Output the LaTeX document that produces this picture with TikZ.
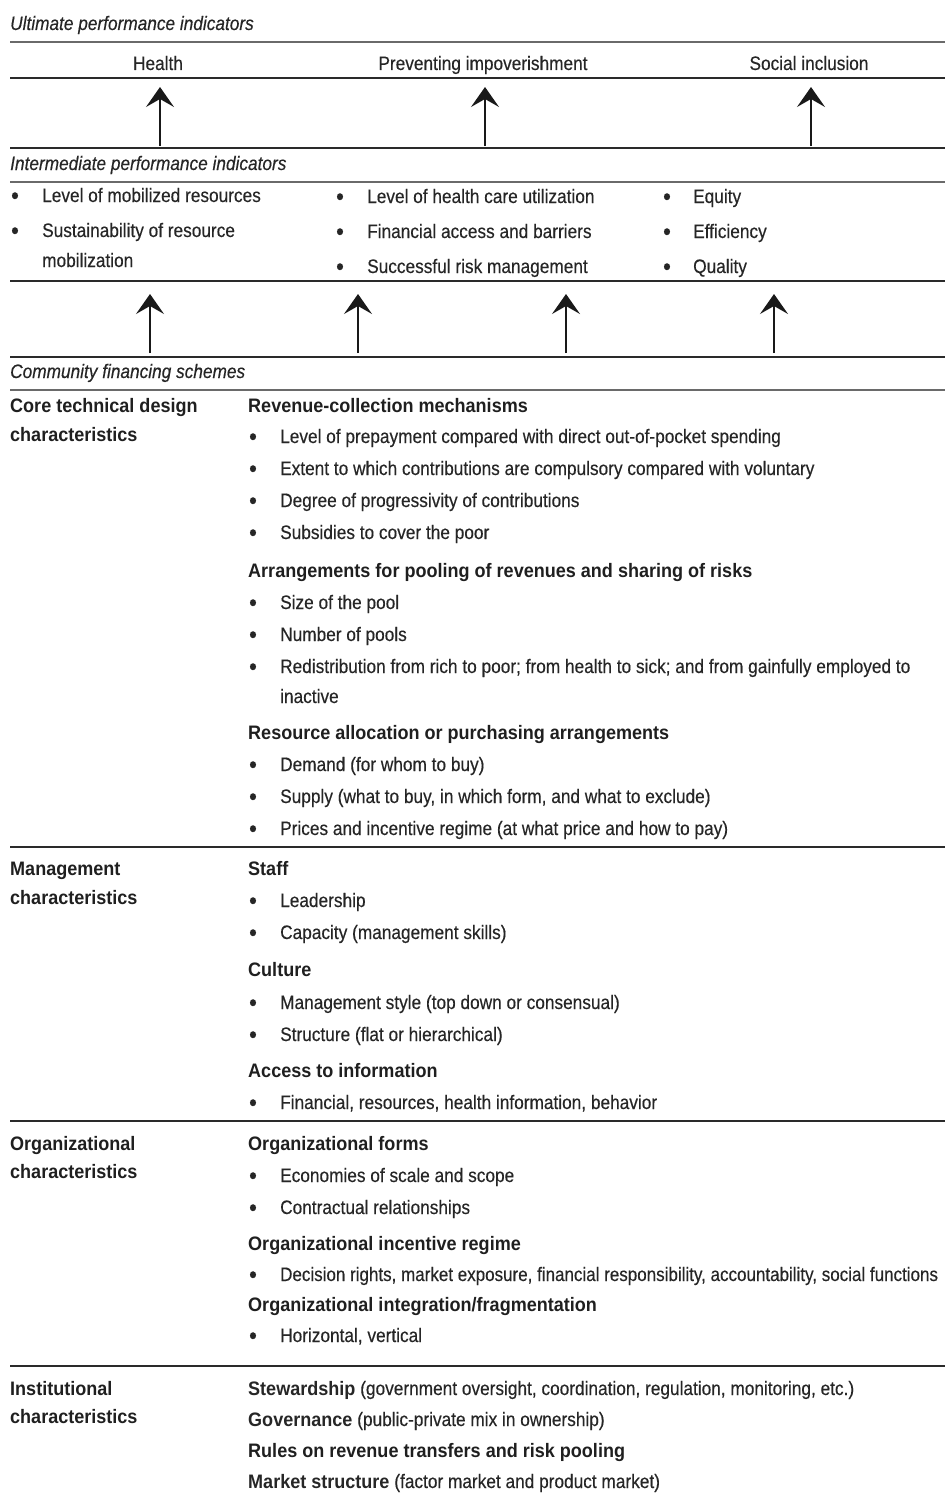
\documentclass[tikz,border=0pt]{standalone}
\usepackage{fontspec}
\usetikzlibrary{arrows.meta}
\newfontfamily\rmf{Liberation Sans}[FakeStretch=0.885, FakeBold=0.35]
\newfontfamily\bff{Liberation Sans}[FakeStretch=0.925]
\newcommand\bt[1]{{\bff\bfseries #1}}
\definecolor{ink}{HTML}{262626}
\definecolor{rulegrey}{HTML}{6A6A6A}
\definecolor{ruledark}{HTML}{2A2A2A}
\tikzset{
  txt/.style={anchor=base west, inner sep=0pt, text=ink, font=\rmf\fontsize{19.5}{30}\selectfont},
  ctr/.style={txt, anchor=base},
  ital/.style={txt, font=\rmf\itshape\fontsize{19.5}{30}\selectfont},
  hd/.style={txt, text=black!88, font=\bff\bfseries\fontsize{19.5}{30}\selectfont},
  bul/.style={anchor=base, inner sep=0pt, text=ink, font=\rmf\fontsize{25}{30}\selectfont},
  heavyrule/.style={draw=rulegrey, line width=2.2pt},
  lightrule/.style={draw=ruledark, line width=1.4pt},
  uparrow/.style={draw=black!90, line width=1.5pt,
    -{Stealth[length=20pt, width=28pt, inset=8pt]}},
}
% bullet item: name, x of bullet, x of text, baseline, text
\newcommand\litem[5]{%
  \node[bul] (#1b) at (#2,#4) {\raisebox{-2pt}{•}};
  \node[txt] (#1) at (#3,#4) {#5};}
\begin{document}
\begin{tikzpicture}[x=1pt, y=-1pt]
\useasboundingbox (0,0) rectangle (945,1512);

% ---------- ultimate performance indicators ----------
\node[ital] (ult) at (10,30) {Ultimate performance indicators};
\draw[heavyrule] (10,42) -- (945,42);
\node[ctr] (health) at (158,70) {Health};
\node[ctr] (prevent) at (483,70) {Preventing impoverishment};
\node[ctr] (social) at (809,70) {Social inclusion};
\draw[lightrule] (10,78) -- (945,78);

\coordinate (u1s) at (160,146); \coordinate (u1e) at (160,87);
\coordinate (u2s) at (485,146); \coordinate (u2e) at (485,87);
\coordinate (u3s) at (811,146); \coordinate (u3e) at (811,87);
\draw[uparrow] (u1s) -- (u1e);
\draw[uparrow] (u2s) -- (u2e);
\draw[uparrow] (u3s) -- (u3e);
\draw[lightrule] (10,148) -- (945,148);

% ---------- intermediate performance indicators ----------
\node[ital] (inter) at (10,170) {Intermediate performance indicators};
\draw[heavyrule] (10,182) -- (945,182);

\litem{ia}{15}{42}{202}{Level of mobilized resources}
\litem{ib}{15}{42}{237}{Sustainability of resource}
\node[txt] (ibw) at (42,267) {mobilization};

\litem{ic}{340}{367}{203}{Level of health care utilization}
\litem{id}{340}{367}{238}{Financial access and barriers}
\litem{ie}{340}{367}{273}{Successful risk management}

\litem{ig}{667}{693}{203}{Equity}
\litem{ih}{667}{693}{238}{Efficiency}
\litem{ii}{667}{693}{273}{Quality}
\draw[lightrule] (10,281) -- (945,281);

\coordinate (m1s) at (150,353); \coordinate (m1e) at (150,294);
\coordinate (m2s) at (358,353); \coordinate (m2e) at (358,294);
\coordinate (m3s) at (566,353); \coordinate (m3e) at (566,294);
\coordinate (m4s) at (774,353); \coordinate (m4e) at (774,294);
\draw[uparrow] (m1s) -- (m1e);
\draw[uparrow] (m2s) -- (m2e);
\draw[uparrow] (m3s) -- (m3e);
\draw[uparrow] (m4s) -- (m4e);
\draw[lightrule] (10,357) -- (945,357);

% ---------- community financing schemes ----------
\node[ital] (comm) at (10,378) {Community financing schemes};
\draw[heavyrule] (10,390) -- (945,390);

% core technical design
\node[hd] (core1) at (10,412) {Core technical design};
\node[hd] (core2) at (10,441) {characteristics};
\node[hd] (rev) at (248,412) {Revenue-collection mechanisms};
\litem{r1}{253}{280}{443}{Level of prepayment compared with direct out-of-pocket spending}
\litem{r2}{253}{280}{475}{Extent to which contributions are compulsory compared with voluntary}
\litem{r3}{253}{280}{507}{Degree of progressivity of contributions}
\litem{r4}{253}{280}{539}{Subsidies to cover the poor}
\node[hd] (pool) at (248,577) {Arrangements for pooling of revenues and sharing of risks};
\litem{p1}{253}{280}{609}{Size of the pool}
\litem{p2}{253}{280}{641}{Number of pools}
\litem{p3}{253}{280}{673}{Redistribution from rich to poor; from health to sick; and from gainfully employed to}
\node[txt] (p3w) at (280,703) {inactive};
\node[hd] (alloc) at (248,739) {Resource allocation or purchasing arrangements};
\litem{a1}{253}{280}{771}{Demand (for whom to buy)}
\litem{a2}{253}{280}{803}{Supply (what to buy, in which form, and what to exclude)}
\litem{a3}{253}{280}{835}{Prices and incentive regime (at what price and how to pay)}
\draw[lightrule] (10,847) -- (945,847);

% management
\node[hd] (mgmt1) at (10,875) {Management};
\node[hd] (mgmt2) at (10,904) {characteristics};
\node[hd] (staff) at (248,875) {Staff};
\litem{s1}{253}{280}{907}{Leadership}
\litem{s2}{253}{280}{939}{Capacity (management skills)}
\node[hd] (cult) at (248,976) {Culture};
\litem{c1}{253}{280}{1009}{Management style (top down or consensual)}
\litem{c2}{253}{280}{1041}{Structure (flat or hierarchical)}
\node[hd] (info) at (248,1077) {Access to information};
\litem{f1}{253}{280}{1109}{Financial, resources, health information, behavior}
\draw[lightrule] (10,1121) -- (945,1121);

% organizational
\node[hd] (org1) at (10,1150) {Organizational};
\node[hd] (org2) at (10,1178) {characteristics};
\node[hd] (forms) at (248,1150) {Organizational forms};
\litem{o1}{253}{280}{1182}{Economies of scale and scope}
\litem{o2}{253}{280}{1214}{Contractual relationships}
\node[hd] (incent) at (248,1250) {Organizational incentive regime};
\litem{o3}{253}{280}{1281}{\scalebox{0.985}[1]{Decision rights, market exposure, financial responsibility, accountability, social functions}}
\node[hd] (integ) at (248,1311) {Organizational integration/fragmentation};
\litem{o4}{253}{280}{1342}{Horizontal, vertical}
\draw[lightrule] (10,1366) -- (945,1366);

% institutional
\node[hd] (inst1) at (10,1395) {Institutional};
\node[hd] (inst2) at (10,1423) {characteristics};
\node[txt] (stew) at (248,1395) {\bt{Stewardship} (government oversight, coordination, regulation, monitoring, etc.)};
\node[txt] (gov) at (248,1426) {\bt{Governance} (public-private mix in ownership)};
\node[hd] (rules) at (248,1457) {Rules on revenue transfers and risk pooling};
\node[txt] (mkt) at (248,1488) {\bt{Market structure} (factor market and product market)};
\end{tikzpicture}
\end{document}
